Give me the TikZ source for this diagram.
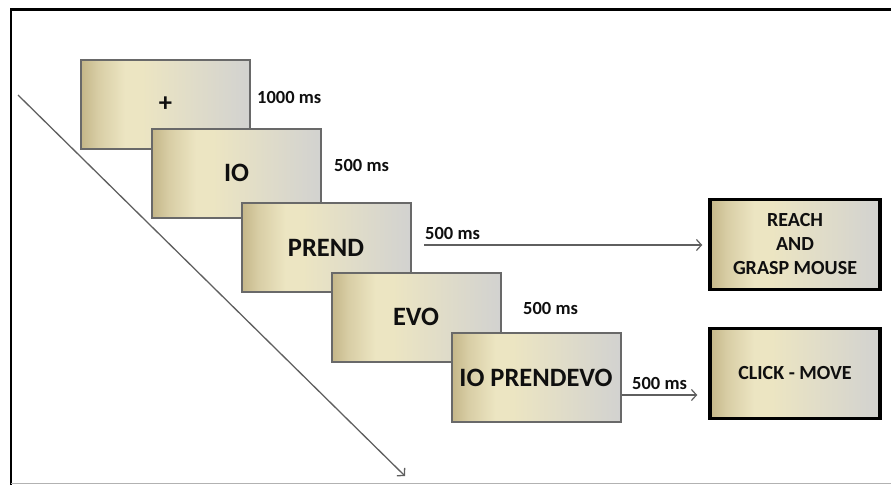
\documentclass[tikz,border=0pt]{standalone}
\usepackage{fontspec}
\setmainfont{Carlito}
\usetikzlibrary{arrows.meta}
\definecolor{shA}{RGB}{196,182,136}
\definecolor{shB}{RGB}{236,229,194}
\definecolor{shC}{RGB}{210,210,208}
\definecolor{boxline}{RGB}{105,105,105}
\definecolor{txt}{RGB}{15,15,15}
\definecolor{arr}{RGB}{95,95,95}
\pgfdeclarehorizontalshading{boxshade}{100bp}{color(0bp)=(shA); color(25bp)=(shA); color(30bp)=(shA!50!shB); color(38bp)=(shB); color(43bp)=(shB); color(75bp)=(shC); color(100bp)=(shC)}
\tikzset{
  slide/.style={draw=boxline, line width=2pt, shading=boxshade, rectangle,
    minimum width=169pt, minimum height=89pt, inner sep=0pt,
    font=\fontsize{26.5}{28}\selectfont\bfseries, text=txt},
  resp/.style={draw=black, line width=3.5pt, shading=boxshade, rectangle,
    minimum width=170pt, minimum height=90pt, inner sep=0pt, align=center,
    font=\fontsize{20}{24}\selectfont\bfseries, text=txt},
  dur/.style={anchor=west, inner sep=0pt, text=txt,
    font=\fontsize{18.5}{19}\selectfont\bfseries},
  conn/.style={draw=arr, line width=1.2pt, -{Straight Barb[length=5pt,width=11pt]}}
}
\begin{document}
\begin{tikzpicture}[x=1pt,y=-1pt]
\useasboundingbox (0,0) rectangle (891,485);
% frame
\draw[black, line width=2.5pt] (891,9.5) -- (11,9.5) -- (11,485);
\draw[gray!60, line width=1pt] (11,483) -- (891,483);
% diagonal time arrow
\coordinate (t0) at (18,95);
\coordinate (t1) at (405,476);
\draw[conn, line width=1.3pt] (t0) -- (t1);
% slides
\node[slide] (b1) at (165.5,104) {+};
\node[slide] (b2) at (236.5,173) {IO};
\node[slide] (b3) at (326,247.5) {PREND};
\node[slide] (b4) at (416,317) {EVO};
\node[slide] (b5) at (536,377.5) {IO PRENDEVO};
% response boxes
\node[resp] (r1) at (795,244.5) {REACH\\AND\\GRASP MOUSE};
\node[resp] (r2) at (795,373.5) {CLICK - MOVE};
% durations
\node[dur] (d1) at (257,97) {1000 ms};
\node[dur] (d2) at (334,165) {500 ms};
\node[dur] (d3) at (425,233) {500 ms};
\node[dur] (d4) at (523,308) {500 ms};
\node[dur] (d5) at (632,383) {500 ms};
% connectors
\coordinate (a1) at (424,245);
\draw[conn, shorten >=6pt] (a1) -- (a1 -| r1.west);
\coordinate (a2) at ([yshift=-17.5pt]b5.east);
\draw[conn, shorten >=11pt] (a2) -- (a2 -| r2.west);
\end{tikzpicture}
\end{document}
